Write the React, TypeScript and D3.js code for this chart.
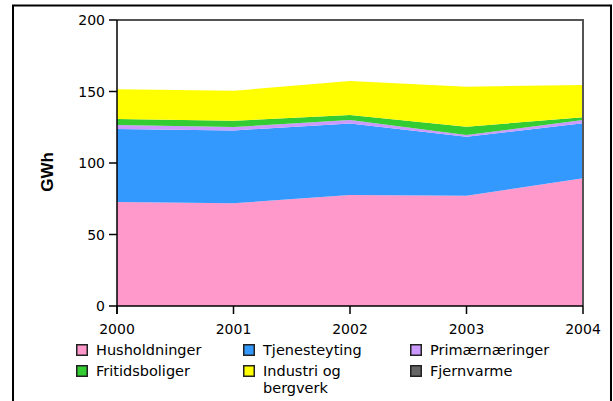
import * as d3 from 'd3';

const years = [2000, 2001, 2002, 2003, 2004];
const seriesNames = ['Husholdninger', 'Tjenesteyting', 'Primærnæringer', 'Fritidsboliger', 'Industri og bergverk', 'Fjernvarme'];
const husholdninger = [72.7, 71.8, 77.6, 77.1, 89.3];
const tjenesteyting = [51.1, 51.0, 50.1, 41.3, 38.5];
const primaer = [2.8, 2.4, 2.3, 1.2, 2.2];
const fritid = [4.2, 4.3, 3.6, 5.8, 2.0];
const industri = [20.7, 21.0, 23.7, 28.0, 22.5];
const fjernvarme = [0, 0, 0, 0, 0];
const colors = ['#ff99cc', '#3399ff', '#cc99ff', '#33cc33', '#ffff00', '#666666'];
const yTicks = [0, 50, 100, 150, 200];

const values = [husholdninger, tjenesteyting, primaer, fritid, industri, fjernvarme];

// legend layout: 3 columns x 2 rows
const legendCols = [76, 243, 410];
const legendRows = [344, 365];

export default function App() {
  const left = 117, right = 583, top = 20, bottom = 306;
  const x = d3.scaleLinear().domain([2000, 2004]).range([left, right]);
  const y = d3.scaleLinear().domain([0, 200]).range([bottom, top]);

  const table = years.map((yr, i) => {
    const row: Record<string, number> = { year: yr };
    seriesNames.forEach((n, k) => (row[n] = values[k][i]));
    return row;
  });
  const stacked = d3.stack<Record<string, number>>().keys(seriesNames)(table);
  const area = d3
    .area<d3.SeriesPoint<Record<string, number>>>()
    .x(d => x(d.data.year))
    .y0(d => y(d[0]))
    .y1(d => y(d[1]));

  const font = '"DejaVu Sans", Verdana, sans-serif';

  return (
    <svg width={613} height={401} style={{ position: 'absolute', left: 0, top: 0, background: '#fff' }}>
      <rect x={13} y={5.5} width={598} height={420} fill="none" stroke="#000" strokeWidth={2} />

      {stacked.map((s, k) => (
        <path key={s.key} d={area(s) || ''} fill={colors[k]} stroke="none" />
      ))}

      {/* plot frame */}
      <line x1={left} x2={right + 1} y1={top} y2={top} stroke="#555" strokeWidth={2} />
      <line x1={right} x2={right} y1={top} y2={bottom} stroke="#555" strokeWidth={2} />

      {/* y axis */}
      <line x1={left} x2={left} y1={top} y2={bottom + 8} stroke="#000" strokeWidth={1.5} />
      {yTicks.map(t => (
        <g key={t}>
          <line x1={left - 8} x2={left} y1={y(t)} y2={y(t)} stroke="#000" strokeWidth={1.5} />
          <text x={left - 12} y={y(t) + 5} textAnchor="end" fontFamily={font} fontSize={14} fill="#000">
            {t}
          </text>
        </g>
      ))}

      {/* x axis */}
      <line x1={left} x2={right} y1={bottom} y2={bottom} stroke="#000" strokeWidth={1.5} />
      {years.map(yr => (
        <g key={yr}>
          <line x1={x(yr)} x2={x(yr)} y1={bottom} y2={bottom + 8} stroke="#000" strokeWidth={1.5} />
          <text x={x(yr)} y={334} textAnchor="middle" fontFamily={font} fontSize={14} fill="#000">
            {yr}
          </text>
        </g>
      ))}

      <text
        transform="translate(53,172) rotate(-90)"
        textAnchor="middle"
        fontFamily='"Liberation Sans", Arial, sans-serif'
        fontWeight="bold"
        fontSize={17}
        fill="#000"
      >
        GWh
      </text>

      {seriesNames.map((n, k) => {
        const col = k % 3;
        const row = Math.floor(k / 3);
        const sx = legendCols[col];
        const sy = legendRows[row];
        const lines = n === 'Industri og bergverk' ? ['Industri og', 'bergverk'] : [n];
        return (
          <g key={n}>
            <rect x={sx + 0.75} y={sy + 0.75} width={10.5} height={10.5} fill={colors[k]} stroke="#222" strokeWidth={1.5} />
            <text x={sx + 20} y={sy + 11} fontFamily={font} fontSize={14.5} fill="#000">
              {lines.map((l, i) => (
                <tspan key={i} x={sx + 20} dy={i === 0 ? 0 : 17}>
                  {l}
                </tspan>
              ))}
            </text>
          </g>
        );
      })}
    </svg>
  );
}
